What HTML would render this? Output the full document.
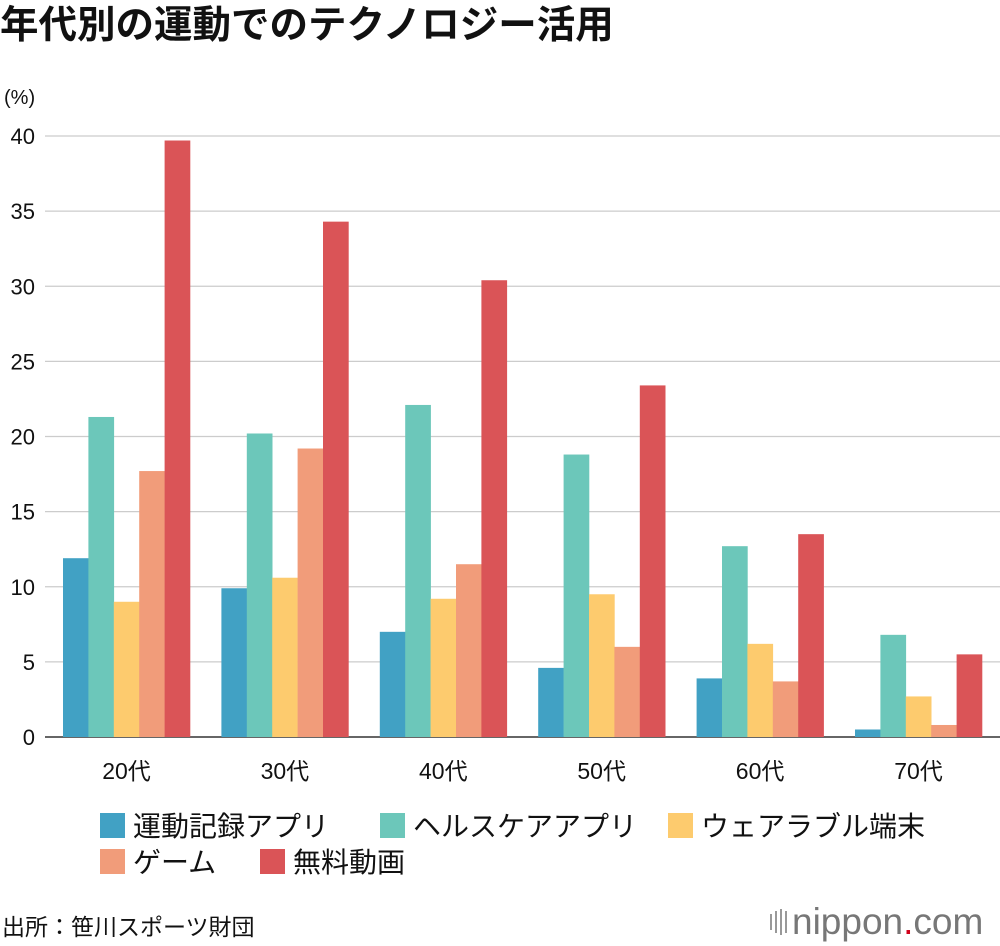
<!DOCTYPE html>
<html><head><meta charset="utf-8"><style>
body{margin:0;background:#fff;font-family:"Liberation Sans","Noto Sans CJK JP",sans-serif;color:#111}
#wrap{position:relative;width:1000px;height:946px;overflow:hidden}
</style></head><body><div id="wrap">
<svg id="svg" width="1000" height="946" style="position:absolute;left:0;top:0;font-family:'Liberation Sans','Noto Sans CJK JP',sans-serif">
<text x="0" y="38" font-size="38.5" font-weight="bold" fill="#111">年代別の運動でのテクノロジー活用</text>
<text x="4" y="104" font-size="20" fill="#111">(%)</text>
<g id="grid"></g><g id="bars"></g><g id="xl"></g><g id="legend"></g>
<text x="2" y="935" font-size="23" fill="#111">出所：笹川スポーツ財団</text>
<g>
<rect x="770" y="914" width="2" height="16" fill="#999"/><rect x="775" y="911" width="2" height="22" fill="#999"/><rect x="780" y="909" width="2" height="26" fill="#999"/><rect x="785" y="911" width="2" height="22" fill="#999"/>
<text x="792" y="934" font-size="37" fill="#777">nippon<tspan fill="#d0021b">.</tspan>com</text></g>
</svg>
<script>
const categories=["20代","30代","40代","50代","60代","70代"];
const seriesNames=["運動記録アプリ","ヘルスケアアプリ","ウェアラブル端末","ゲーム","無料動画"];
const s1=[11.9,9.9,7.0,4.6,3.9,0.5];
const s2=[21.3,20.2,22.1,18.8,12.7,6.8];
const s3=[9.0,10.6,9.2,9.5,6.2,2.7];
const s4=[17.7,19.2,11.5,6.0,3.7,0.8];
const s5=[39.7,34.3,30.4,23.4,13.5,5.5];
const yTicks=[0,5,10,15,20,25,30,35,40];
const series=[s1,s2,s3,s4,s5];
const colors=["#41a1c4","#6cc7ba","#fdcb6e","#f19c7a","#da5457"];
const NS="http://www.w3.org/2000/svg";
const y=v=>737-v*(601/40);
const gx=i=>63+i*158.4;
const bw=25.4;
function mk(t,a,p){const e=document.createElementNS(NS,t);for(const k in a)e.setAttribute(k,a[k]);p.appendChild(e);return e;}
const grid=document.getElementById('grid');
yTicks.forEach(t=>{
 const l=mk('line',{x1:45,x2:1000,y1:y(t),y2:y(t),stroke:t===0?'#333':'#ccc','stroke-width':t===0?1.5:1.2},grid);
 
 
 const tx=mk('text',{x:35,y:y(t)+8,'font-size':22,'text-anchor':'end',fill:'#111'},grid);tx.textContent=t;
 
 
});
const bars=document.getElementById('bars');
categories.forEach((c,i)=>{
 series.forEach((s,j)=>{
  const r=mk('rect',{x:gx(i)+j*bw,y:y(s[i]),width:bw+0.3,height:737-y(s[i]),fill:colors[j]},bars);
  
  
 });
 const tx=mk('text',{x:gx(i)+bw*2.5,y:779,'font-size':23,'text-anchor':'middle',fill:'#111'},document.getElementById('xl'));tx.textContent=c;
 
 
});
const lg=document.getElementById('legend');
const pos=[[100,813],[380,813],[668,813],[100,849],[260,849]];
seriesNames.forEach((n,j)=>{
 const g=mk('g',{},lg);
 
 
 mk('rect',{x:pos[j][0],y:pos[j][1],width:25,height:25,fill:colors[j]},g);
 const t=mk('text',{x:pos[j][0]+33,y:pos[j][1]+23,'font-size':28,fill:'#111'},g);t.textContent=n;
});
</script>
</div></body></html>
